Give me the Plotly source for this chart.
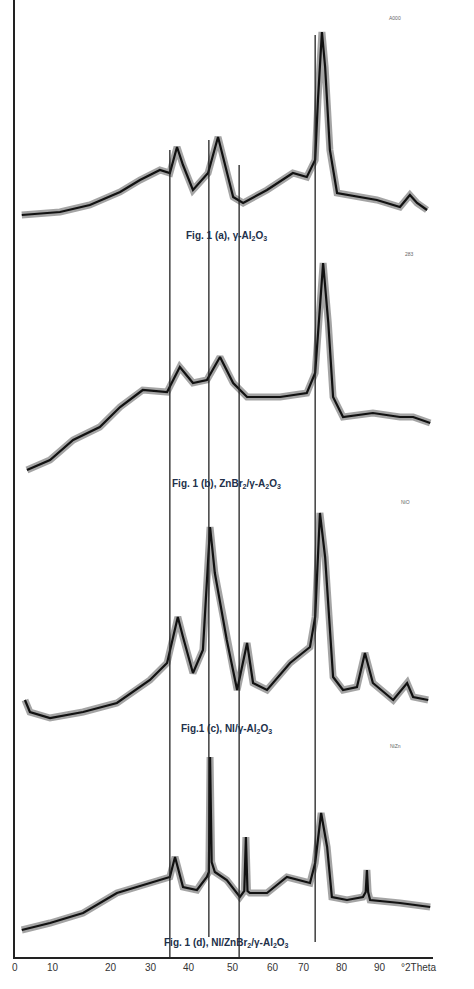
import plotly.graph_objects as go

# 2-theta positions and intensities (offset-stacked)
a_x = [-2.0,7.6,15.1,22.7,27.7,32.7,35.2,37.0,38.5,41.0,44.8,47.3,51.1,53.6,59.6,66.1,69.6,71.7,72.4,73.4,74.2,75.4,77.2,87.2,93.0,95.5,97.3,99.8]
a_y = [742,745,752,765,777,787,784,810,792,767,784,820,760,754,767,784,780,797,857,925,890,807,764,757,750,762,754,747]

b_x = [-0.7,5.1,10.9,17.6,22.7,28.4,34.5,37.7,41.0,44.5,47.8,51.1,54.6,62.9,69.6,71.7,72.9,73.7,75.0,76.2,78.7,86.2,93.0,96.3,100.6]
b_y = [487,497,517,530,550,567,565,590,574,577,600,574,560,560,564,584,650,694,634,560,540,544,540,540,534]

c_x = [-1.2,0.05,5.1,13.4,21.9,30.2,34.5,37.2,38.5,41.0,43.5,45.3,46.5,49.5,52.1,54.6,56.1,59.6,65.4,70.4,71.7,72.9,74.2,76.2,78.7,82.2,84.2,86.2,91.3,94.8,96.3,100.1]
c_y = [257,245,239,245,254,277,294,340,320,284,307,430,384,317,267,314,274,267,294,310,340,444,400,280,267,270,304,274,257,274,260,257]

d_x = [-2.0,5.1,13.4,21.9,30.2,35.2,36.5,38.5,42.0,44.5,45.0,45.3,45.7,46.5,49.5,52.8,53.9,54.3,54.7,55.3,59.6,64.6,70.4,71.7,73.2,74.7,75.9,79.7,83.7,84.4,84.7,85.0,85.5,93.0,100.6]
d_y = [27,34,44,64,74,80,100,70,67,80,85,200,95,85,77,60,66,120,66,64,64,80,74,94,144,110,60,57,60,65,87,65,57,54,50]

ref_x = [35.2, 45.0, 52.6, 71.7]
ref_top = [807, 817, 792, 922]
ref_bot = [0, 20, 0, 15]

tick_vals = [-4.97, 3.8, 18.4, 28.4, 40, 51.1, 61.1, 70.9, 80.4, 89.9, 102.8]
tick_text = ["0", "10", "20", "30", "40", "50", "60", "70", "80", "90", "°2Theta"]

captions = ["Fig. 1 (a), γ-Al<sub>2</sub>O<sub>3</sub>",
            "Fig. 1 (b), ZnBr<sub>2</sub>/γ-A<sub>2</sub>O<sub>3</sub>",
            "Fig.1 (c), NI/γ-Al<sub>2</sub>O<sub>3</sub>",
            "Fig. 1 (d), NI/ZnBr<sub>2</sub>/γ-Al<sub>2</sub>O<sub>3</sub>"]
caption_y = [721, 473, 228, 14]
tags = ["A000", "283", "NiO", "NiZn"]
tag_x = [91.8, 95.5, 94.5, 92.0]
tag_y = [939, 703, 455, 211]

X0, X1 = -3.7, 101.3

fig = go.Figure()
for xs, ys in [(a_x, a_y), (b_x, b_y), (c_x, c_y), (d_x, d_y)]:
    fig.add_trace(go.Scatter(x=xs, y=ys, mode="lines", line=dict(color="rgba(90,90,90,0.55)", width=7), hoverinfo="skip"))
    fig.add_trace(go.Scatter(x=xs, y=ys, mode="lines", line=dict(color="#111", width=2.2)))

for x, t, b in zip(ref_x, ref_top, ref_bot):
    fig.add_shape(type="line", x0=x, x1=x, y0=b, y1=t, line=dict(color="#222", width=1.3))

anns = []
for v, t in zip(tick_vals, tick_text):
    anns.append(dict(x=(v - X0) / (X1 - X0), y=-0.019, xref="paper", yref="paper", text=t, showarrow=False,
                     font=dict(size=10, color="#333", family="Liberation Sans")))
for t, y in zip(captions, caption_y):
    anns.append(dict(x=49.5, y=y, xref="x", yref="y", text="<b>" + t + "</b>", showarrow=False,
                     font=dict(size=10, color="#22304a", family="Liberation Sans")))
for t, x, y in zip(tags, tag_x, tag_y):
    anns.append(dict(x=x, y=y, xref="x", yref="y", text=t, showarrow=False,
                     font=dict(size=5, color="#666", family="Liberation Sans")))

fig.update_layout(
    width=474, height=989, margin=dict(l=15, r=41, t=0, b=32),
    plot_bgcolor="white", paper_bgcolor="white", showlegend=False,
    annotations=anns,
    xaxis=dict(range=[X0, X1], showgrid=False, zeroline=False, showticklabels=False,
               ticks="", showline=True, linecolor="#222", linewidth=2),
    yaxis=dict(range=[0, 957], showgrid=False, zeroline=False, showticklabels=False,
               ticks="", showline=True, linecolor="#222", linewidth=2),
)
fig.write_html("out.html", config={"displayModeBar": False},
               post_script="document.body.style.margin='0';")
